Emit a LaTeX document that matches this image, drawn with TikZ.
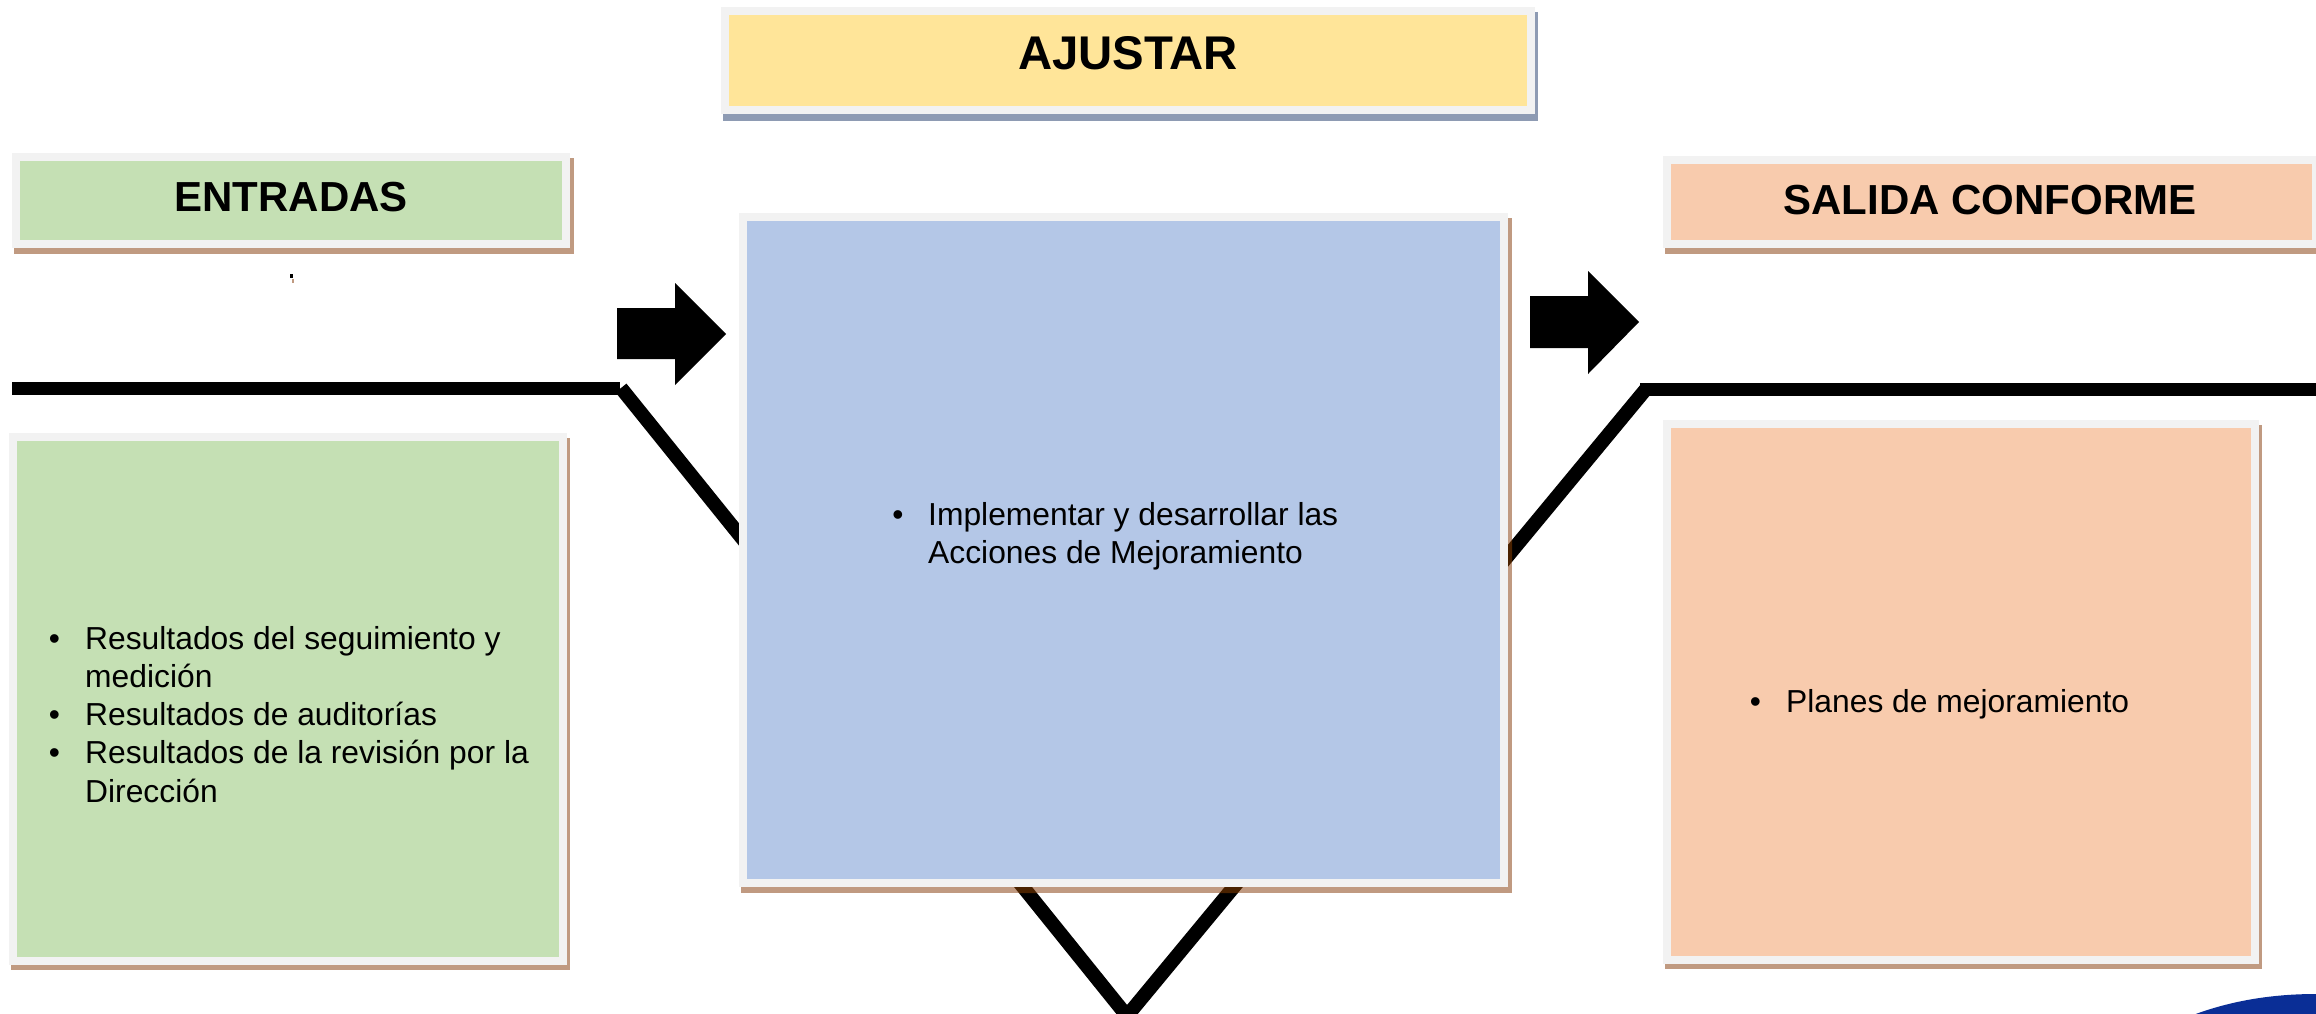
\documentclass[tikz,border=0pt]{standalone}
\usepackage{fontspec}
\setmainfont{Liberation Sans}
\definecolor{cgreen}{HTML}{C5E0B4}
\definecolor{cyellow}{HTML}{FFE599}
\definecolor{cblue}{HTML}{B4C7E7}
\definecolor{corange}{HTML}{F8CBAD}
\definecolor{cframe}{HTML}{F2F2F2}
\definecolor{cshadow}{HTML}{C09A81}
\definecolor{cshadowb}{HTML}{8E9BB3}
\definecolor{cdark}{HTML}{4A2200}
\definecolor{clogo}{HTML}{0A2E96}
\tikzset{
  panelbox/.style={draw=cframe,line width=8pt,inner sep=0pt,outer sep=0pt},
  barline/.style={line width=13pt,line cap=butt,black},
  diagline/.style={line width=14pt,line cap=butt},
  headtext/.style={anchor=base,inner sep=0pt,font=\fontsize{42}{48}\selectfont\bfseries},
  bodytext/.style={anchor=base west,inner sep=0pt,font=\fontsize{31.8}{38}\selectfont},
  bullettext/.style={anchor=base,inner sep=0pt,font=\fontsize{31.8}{38}\selectfont}
}
% outer x0,y0,x1,y1, shadow colour, shadow right, shadow bottom
\newcommand{\panelshadow}[7]{%
  \fill[#5] (#1+2,#2+5) rectangle (#3+#6,#4+#7);}
\newcommand{\panelnode}[6]{%
  \pgfmathsetmacro{\pw}{#4-#2-8}\pgfmathsetmacro{\ph}{#5-#3-8}%
  \node[panelbox,fill=#6,minimum width=\pw pt,minimum height=\ph pt] (#1) at ({(#2+#4)/2},{(#3+#5)/2}) {};}
\begin{document}
\begin{tikzpicture}[x=1pt,y=-1pt]
\useasboundingbox (0,0) rectangle (2316,1014);
\fill[white] (0,0) rectangle (2316,1014);
% connector points
\coordinate (lstart) at (12,388);
\coordinate (lbend) at (620,388);
\coordinate (ldiag) at (621,388);
\coordinate (apex) at (1127,1016);
\coordinate (rdiag) at (1646,389);
\coordinate (rbend) at (1640,389);
\coordinate (rend) at (2316,389);
% fishbone lines
\draw[barline] (lstart) -- (lbend);
\draw[barline] (rbend) -- (rend);
\draw[diagline,black] (ldiag) -- (apex);
\draw[diagline,black] (rdiag) -- (apex);
% shadows
\panelshadow{12}{153}{570}{248}{cshadow}{4}{6}
\panelshadow{721}{7}{1535}{114}{cshadowb}{3}{7}
\panelshadow{9}{433}{567}{965}{cshadow}{3}{5}
\panelshadow{739}{213}{1508}{887}{cshadow}{4}{6}
\panelshadow{1663}{156}{2320}{248}{cshadow}{4}{6}
\panelshadow{1663}{420}{2259}{964}{cshadow}{3}{5}
% lines seen through the shadow of the central panel
\begin{scope}
  \clip (1508,218) rectangle (1512,893) (741,887) rectangle (1512,893);
  \draw[diagline,cdark] (ldiag) -- (apex);
  \draw[diagline,cdark] (rdiag) -- (apex);
\end{scope}
% panels
\panelnode{hent}{12}{153}{570}{248}{cgreen}
\panelnode{haju}{721}{7}{1535}{114}{cyellow}
\panelnode{hsal}{1663}{156}{2320}{248}{corange}
\panelnode{bent}{9}{433}{567}{965}{cgreen}
\panelnode{baju}{739}{213}{1508}{887}{cblue}
\panelnode{bsal}{1663}{420}{2259}{964}{corange}
% block arrows
\fill[black] (617,308) -- (675,308) -- (675,283) -- (726,334) -- (675,385) -- (675,359) -- (617,359) -- cycle;
\fill[black] (1530,296) -- (1588,296) -- (1588,271) -- (1639,322) -- (1588,374) -- (1588,348) -- (1530,348) -- cycle;
% headings
\node[headtext] (tent) at (291.3,211) {ENTRADAS};
\node[headtext,font=\fontsize{47.3}{52}\selectfont\bfseries] (taju) at (1128,70) {AJUSTAR};
\node[headtext] (tsal) at (1990,214) {SALIDA CONFORME};
% left list
\node[bullettext] (b1) at (54.5,649) {•};
\node[bodytext] (e1) at (85,649) {Resultados del seguimiento y};
\node[bodytext] (e1b) at (85,687) {medición};
\node[bullettext] (b2) at (54.5,725) {•};
\node[bodytext] (e2) at (85,725) {Resultados de auditorías};
\node[bullettext] (b3) at (54.5,763) {•};
\node[bodytext] (e3) at (85,763) {Resultados de la revisión por la};
\node[bodytext] (e3b) at (85,802) {Dirección};
% centre list
\node[bullettext] (b4) at (898,525) {•};
\node[bodytext] (c1) at (928,525) {Implementar y desarrollar las};
\node[bodytext] (c1b) at (928,563) {Acciones de Mejoramiento};
% right list
\node[bullettext] (b5) at (1755.5,712) {•};
\node[bodytext] (s1) at (1786,712) {Planes de mejoramiento};
% tiny mark under ENTRADAS
\fill[black] (290,274) rectangle (292.5,277.5);
\fill[cshadow] (292,279) rectangle (294,283);
% corner of the logo
\fill[clogo] (2193,1015) .. controls (2225,1003) and (2265,994) .. (2316,994) -- (2316,1015) -- cycle;
\end{tikzpicture}
\end{document}
